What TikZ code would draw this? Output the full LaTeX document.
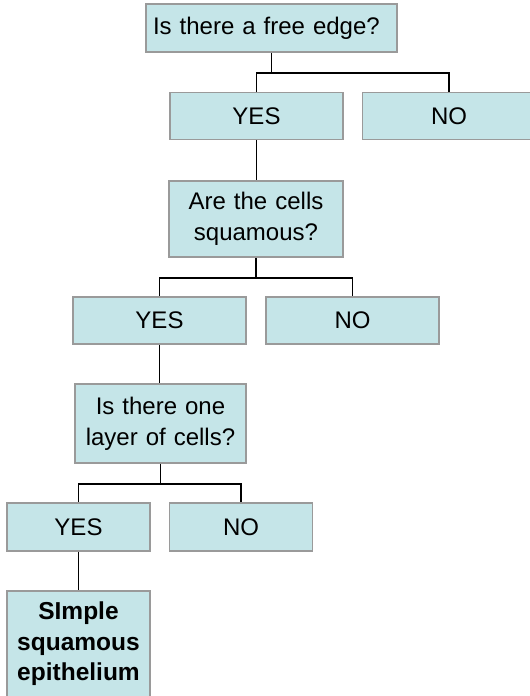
\documentclass[tikz,border=0pt]{standalone}
\usepackage{fontspec}
\setmainfont{Liberation Sans}
\definecolor{boxfill}{HTML}{C5E5E8}
\definecolor{boxline}{HTML}{9A9A9A}
\begin{document}
\begin{tikzpicture}[x=1pt,y=-1pt,
  box/.style={draw=boxline, line width=1.8pt, fill=boxfill, rectangle,
    font=\fontsize{24}{31}\selectfont, align=center, inner sep=0pt},
  conn/.style={draw=black, line width=1.4pt}]
\useasboundingbox (0,0) rectangle (530,696);
\node[box, minimum width=251pt, minimum height=48pt, text width=237pt, align=left] (top) at (271.5,28) {Is there a free edge?};
\node[box, minimum width=173pt, minimum height=47pt] (yes1) at (256.5,116) {YES};
\node[box, minimum width=173pt, minimum height=47pt] (no1) at (449,116) {NO};
\node[box, minimum width=174pt, minimum height=76pt, text width=160pt] (q2) at (256,219) {Are the cells\\squamous?};
\node[box, minimum width=173pt, minimum height=47pt] (yes2) at (159.5,320.5) {YES};
\node[box, minimum width=173pt, minimum height=47pt] (no2) at (352.5,320.5) {NO};
\node[box, minimum width=171pt, minimum height=79pt, text width=160pt] (q3) at (160.5,423.5) {Is there one\\layer of cells?};
\node[box, minimum width=143pt, minimum height=48pt] (yes3) at (78.5,527) {YES};
\node[box, minimum width=143pt, minimum height=48pt] (no3) at (241,527) {NO};
\node[box, minimum width=143pt, minimum height=106pt, text width=135pt, font=\fontsize{24.5}{30.5}\selectfont\bfseries] (fin) at (78.5,644) {SImple\\squamous\\epithelium};
\draw[conn] (top.south) -- ++(0,20) coordinate (b1);
\draw[conn] (b1) -| (yes1.north);
\draw[conn] (b1) -| (no1.north);
\draw[conn] (yes1.south) -- (yes1.south |- q2.north);
\draw[conn] (q2.south) -- ++(0,20) coordinate (b2);
\draw[conn] (b2) -| (yes2.north);
\draw[conn] (b2) -| (no2.north);
\draw[conn] (yes2.south) -- (yes2.south |- q3.north);
\draw[conn] (q3.south) -- ++(0,20) coordinate (b3);
\draw[conn] (b3) -| (yes3.north);
\draw[conn] (b3) -| (no3.north);
\draw[conn] (yes3.south) -- (fin.north);
\end{tikzpicture}
\end{document}
